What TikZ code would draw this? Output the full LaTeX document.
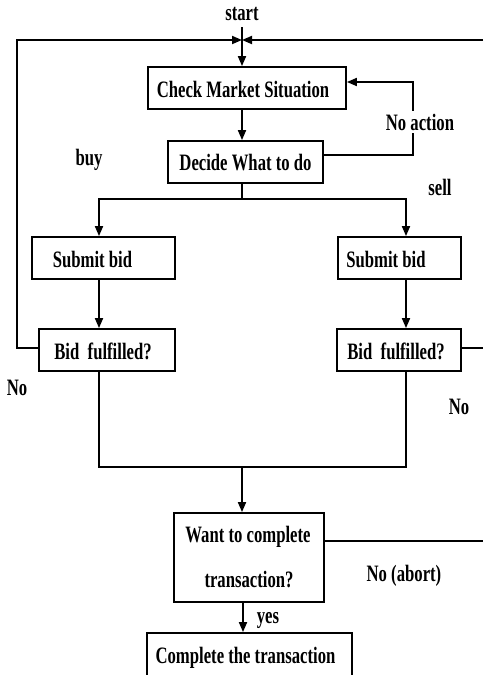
\documentclass[tikz,border=0pt]{standalone}
\usepackage{fontspec}
\setmainfont{Liberation Serif}[FakeStretch=0.71]
\usetikzlibrary{arrows.meta}
\begin{document}
\begin{tikzpicture}[x=1pt,y=-1pt,line width=1.8pt,
  box/.style={draw,rectangle,inner sep=0pt,line width=1.8pt},
  txt/.style={font=\fontsize{23.5}{26}\bfseries\selectfont,inner sep=0pt},
  arr/.style={-{Triangle[length=10pt,width=8pt]}}]
\useasboundingbox (0,0) rectangle (483,675);
\clip (0,0) rectangle (483,675);
% boxes
\node[box,minimum width=198pt,minimum height=42pt] (cms) at (247,88) {};
\node[box,minimum width=155pt,minimum height=42pt] (dec) at (245.5,162) {};
\node[box,minimum width=143pt,minimum height=42pt] (subL) at (103.5,258) {};
\node[box,minimum width=123pt,minimum height=42pt] (subR) at (399.5,258) {};
\node[box,minimum width=136pt,minimum height=42pt] (bidL) at (107,350) {};
\node[box,minimum width=124pt,minimum height=42pt] (bidR) at (399,350) {};
\node[box,minimum width=150pt,minimum height=89pt] (want) at (249,557.5) {};
\node[box,minimum width=205pt,minimum height=60pt] (comp) at (249.5,663) {};
% coordinates
\coordinate (st) at (242,27);
\coordinate (jn) at (242,40);
\coordinate (tl) at (17,40);
\coordinate (tr) at (483,40);
\coordinate (br) at (483,348);
\coordinate (nac) at (413,82);
\coordinate (spM) at (242,199);
\coordinate (spL) at (99,199);
\coordinate (spR) at (406,199);
\coordinate (mL) at (99,467);
\coordinate (mM) at (242,467);
\coordinate (mR) at (406,467);
\coordinate (ab) at (483,541);
\coordinate (yx) at (243,602);
% connectors
\draw[arr] (st) -- (jn |- cms.north);
\draw[arr] ([yshift=2pt]bidL.west) -| (tl) -- (jn);
\draw[arr] (tr) -- (jn);
\draw ([yshift=2pt]bidR.east) -- (br);
\draw[arr] (jn |- cms.south) -- (jn |- dec.north);
\draw[arr] ([yshift=7pt]dec.east) -| (nac) -- ([yshift=6pt]cms.east);
\draw (jn |- dec.south) -- (spM);
\draw[arr] (spM) -- (spL) -- (spL |- subL.north);
\draw[arr] (spM) -- (spR) -- (spR |- subR.north);
\draw[arr] (spL |- subL.south) -- (spL |- bidL.north);
\draw[arr] (spR |- subR.south) -- (spR |- bidR.north);
\draw (spL |- bidL.south) -- (mL) -- (mR) -- (spR |- bidR.south);
\draw[arr] (mM) -- (mM |- want.north);
\draw ([yshift=16.5pt]want.east) -- (ab);
\draw[arr] (yx |- want.south) -- (yx |- comp.north);
% box texts
\node[txt] (tcms) at (243,89) {Check Market Situation};
\node[txt] (tdec) at (245.5,163) {Decide What to do};
\node[txt] (tsubL) at (92.5,259) {Submit bid};
\node[txt] (tsubR) at (386,259) {Submit bid};
\node[txt] (tbidL) at (103,351) {Bid\ \ fulfilled?};
\node[txt] (tbidR) at (396,351) {Bid\ \ fulfilled?};
\node[txt] (twant1) at (248,537) {Want to complete};
\node[txt] (twant2) at (249,580) {transaction?};
\node[txt] (tcomp) at (245.5,658) {Complete the transaction};
% labels
\node[txt] (lstart) at (242,14) {start};
\node[txt,fill=white,inner ysep=3pt] (lnoact) at (420,122) {No action};
\node[txt] (lbuy) at (89,160) {buy};
\node[txt] (lsell) at (440,187) {sell};
\node[txt] (lnoL) at (17,388) {No};
\node[txt] (lnoR) at (459,407) {No};
\node[txt] (labort) at (404,576) {No (abort)};
\node[txt] (lyes) at (268,620) {yes};
\end{tikzpicture}
\end{document}
